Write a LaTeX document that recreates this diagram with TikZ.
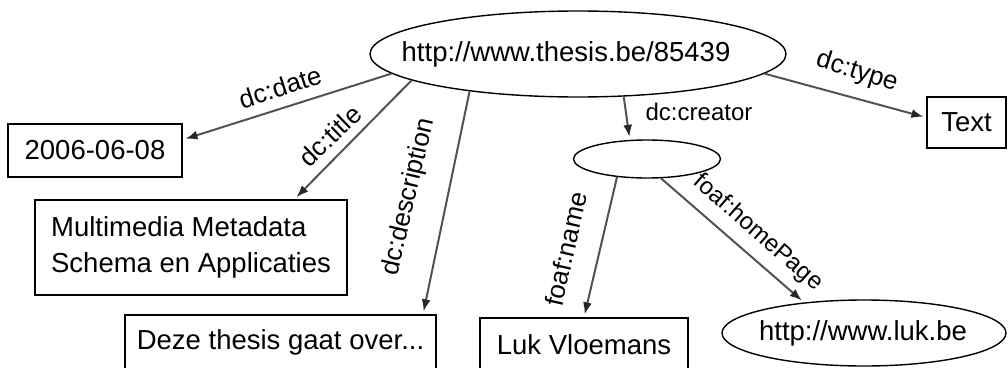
\documentclass[tikz,border=0pt]{standalone}
\usepackage{fontspec}
\setmainfont{Liberation Sans}
\usetikzlibrary{shapes.geometric,arrows.meta}
\begin{document}
\begin{tikzpicture}[x=1pt,y=-1pt,
  every node/.style={font=\fontsize{27.5}{36}\selectfont, inner sep=0pt},
  box/.style={draw=black, line width=1.4pt, rectangle},
  ell/.style={draw=black, line width=1.4pt, ellipse},
  lbl/.style={font=\fontsize{26}{30}\selectfont},
  slbl/.style={font=\fontsize{24}{28}\selectfont},
  rel/.style={draw=black!68, line width=2pt, -{Latex[length=12pt,width=9pt,color=black!85]}, shorten >=3pt},
]
\useasboundingbox (0,0) rectangle (1008,367);
\clip (0,0) rectangle (1008,367);
% nodes
\node[ell, minimum width=416, minimum height=86,
      label={[xshift=-12pt]center:http://www.thesis.be/85439}] (m) at (578,54) {};
\node[box, minimum width=174, minimum height=53] (d) at (95,150.5) {2006-06-08};
\node[box, minimum width=312, minimum height=95, align=left] (t) at (191,247.5) {Multimedia Metadata\\Schema en Applicaties};
\node[box, minimum width=311, minimum height=54] (s) at (280.5,342) {Deze thesis gaat over...};
\node[box, minimum width=208, minimum height=54] (n) at (584,345) {Luk Vloemans};
\node[box, minimum width=79, minimum height=51] (x) at (966.5,122.5) {Text};
\node[ell, minimum width=147, minimum height=38] (b) at (647,159) {};
\node[ell, minimum width=284, minimum height=66,
      label={[xshift=-1pt]center:http://www.luk.be}] (h) at (864,333) {};
% connectors
\draw[rel] (m.186) -- (d.7);
\draw[rel] (m.189.5) -- (t.25.6);
\draw[rel] (m.199) -- (s.11.6);
\draw[rel] (m.317.5) -- (b.132);
\draw[rel] (m.354.7) -- (x.173.5);
\draw[rel] (b.211) -- (n.north);
\draw[rel] (b.306) -- (h.153);
% labels
\node[lbl, rotate=18] (ldate) at (280,87) {dc:date};
\node[lbl, rotate=44] (ltitle) at (330,136) {dc:title};
\node[lbl, rotate=77] (ldesc) at (409,197) {dc:description};
\node[slbl] (lcre) at (699,112) {dc:creator};
\node[lbl, rotate=-17.3] (ltype) at (857,72) {dc:type};
\node[lbl, rotate=77] (lname) at (566,249) {foaf:name};
\node[slbl, rotate=-41.3] (lhome) at (758,233) {foaf:homePage};
\end{tikzpicture}
\end{document}
